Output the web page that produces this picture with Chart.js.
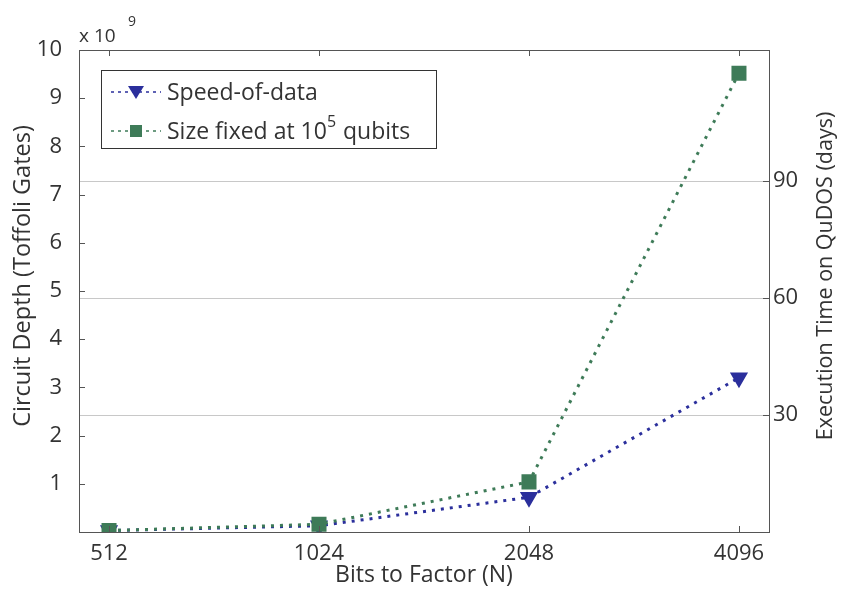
<!DOCTYPE html>
<html>
<head>
<meta charset="utf-8">
<script src="https://cdn.jsdelivr.net/npm/chart.js@4"></script>
<style>
  html, body { margin: 0; padding: 0; background: #fff; }
  #wrap { width: 841px; height: 590px; }
</style>
</head>
<body>
<div id="wrap"><canvas id="depthChart" width="841" height="590"></canvas></div>
<script>
// data
const bits = ['512', '1024', '2048', '4096'];
const speedOfData = [0.03e9, 0.13e9, 0.72e9, 3.2e9];
const sizeFixed = [0.03e9, 0.16e9, 1.04e9, 9.52e9];
const depthTicks = [1, 2, 3, 4, 5, 6, 7, 8, 9, 10];
const dayTicks = [30, 60, 90];

const FONT = "'Open Sans', sans-serif";
const TXT = '#333';
const BLUE = '#2b2f9c';
const GREEN = '#3e7b58';

// extra drawing: box, inward ticks, exponent, axis titles, legend
const matlabBits = {
    id: 'matlabBits',
    afterDraw(chart) {
        const ctx = chart.ctx;
        const a = chart.chartArea;
        const x = chart.scales.x, y = chart.scales.y, y1 = chart.scales.y1;
        ctx.save();
        ctx.strokeStyle = '#555';
        ctx.lineWidth = 1;
        ctx.strokeRect(a.left + 0.5, a.top + 0.5, a.right - a.left, a.bottom - a.top);

        // inward tick marks
        ctx.beginPath();
        depthTicks.forEach(v => {
            const py = Math.round(y.getPixelForValue(v * 1e9)) + 0.5;
            ctx.moveTo(a.left, py); ctx.lineTo(a.left + 6, py);
        });
        dayTicks.forEach(v => {
            const py = Math.round(y1.getPixelForValue(v)) + 0.5;
            ctx.moveTo(a.right, py); ctx.lineTo(a.right - 6, py);
        });
        bits.forEach((b, i) => {
            const px = Math.round(x.getPixelForValue(i)) + 0.5;
            ctx.moveTo(px, a.bottom); ctx.lineTo(px, a.bottom - 6);
            ctx.moveTo(px, a.top); ctx.lineTo(px, a.top + 6);
        });
        ctx.stroke();

        // exponent label
        ctx.fillStyle = TXT;
        ctx.textBaseline = 'alphabetic';
        ctx.textAlign = 'left';
        ctx.font = '19px ' + FONT;
        ctx.fillText('x 10', a.left, 42);
        ctx.font = '14px ' + FONT;
        ctx.fillText('9', a.left + 49, 26);

        // rotated axis titles
        ctx.textAlign = 'center';
        ctx.textBaseline = 'middle';
        [[23, 23.5, 'Circuit Depth (Toffoli Gates)'], [826, 21.5, 'Execution Time on QuDOS (days)']].forEach(([tx, fs, t]) => {
            ctx.save();
            ctx.font = fs + 'px ' + FONT;
            ctx.translate(tx, 276);
            ctx.rotate(-Math.PI / 2);
            ctx.fillText(t, 0, 0);
            ctx.restore();
        });

        // legend
        const lx = 101, ly = 70, lw = 335, lh = 78;
        ctx.fillStyle = '#fff';
        ctx.fillRect(lx, ly, lw, lh);
        ctx.strokeStyle = '#333';
        ctx.strokeRect(lx + 0.5, ly + 0.5, lw, lh);
        ctx.textAlign = 'left';
        const rows = [
            { y: ly + 22, color: BLUE, mark: 'tri', parts: [['Speed-of-data', 0]] },
            { y: ly + 61, color: GREEN, mark: 'sq', parts: [['Size fixed at 10', 0], ['5', 1], [' qubits', 0]] }
        ];
        rows.forEach(r => {
            ctx.strokeStyle = r.color;
            ctx.lineWidth = 1.5;
            ctx.setLineDash([3, 4]);
            ctx.beginPath();
            ctx.moveTo(lx + 10, r.y); ctx.lineTo(lx + 60, r.y);
            ctx.stroke();
            ctx.setLineDash([]);
            ctx.fillStyle = r.color;
            const mx = lx + 35;
            ctx.beginPath();
            if (r.mark === 'tri') {
                ctx.moveTo(mx - 8, r.y - 6); ctx.lineTo(mx + 8, r.y - 6); ctx.lineTo(mx, r.y + 7);
                ctx.closePath(); ctx.fill();
            } else {
                ctx.fillRect(mx - 6, r.y - 6, 12, 12);
            }
            let tx = lx + 66;
            ctx.fillStyle = TXT;
            ctx.textBaseline = 'middle';
            r.parts.forEach(([t, sup]) => {
                ctx.font = (sup ? '16px ' : '23px ') + FONT;
                ctx.fillText(t, tx, sup ? r.y - 9 : r.y + 1);
                tx += ctx.measureText(t).width + (sup ? 1 : 0);
            });
        });
        ctx.restore();
    }
};

new Chart(document.getElementById('depthChart').getContext('2d'), {
    type: 'line',
    data: {
        datasets: [
            {
                label: 'Speed-of-data',
                data: speedOfData.map((v, i) => ({ x: i, y: v })),
                borderColor: BLUE,
                backgroundColor: BLUE,
                borderWidth: 3,
                borderDash: [3, 6],
                pointStyle: 'triangle',
                rotation: 180,
                pointRadius: 7.5,
                yAxisID: 'y',
                order: 2
            },
            {
                label: 'Size fixed at 10^5 qubits',
                data: sizeFixed.map((v, i) => ({ x: i, y: v })),
                borderColor: GREEN,
                backgroundColor: GREEN,
                borderWidth: 3,
                borderDash: [3, 6],
                pointStyle: 'rect',
                pointRadius: 8.5,
                yAxisID: 'y',
                order: 1
            }
        ]
    },
    options: {
        responsive: false,
        animation: false,
        layout: { padding: { top: 50, left: 0, right: 0, bottom: 0 } },
        plugins: {
            legend: { display: false },
            tooltip: { enabled: false }
        },
        scales: {
            x: {
                type: 'linear',
                min: -0.143,
                max: 3.143,
                afterBuildTicks: s => { s.ticks = bits.map((b, i) => ({ value: i })); },
                afterFit: s => { s.height = 58; },
                grid: { display: false },
                border: { color: '#555' },
                ticks: {
                    callback: (v) => bits[v],
                    color: TXT,
                    padding: 1,
                    maxRotation: 0,
                    font: { family: FONT, size: 22 }
                },
                title: {
                    display: true,
                    text: 'Bits to Factor (N)',
                    color: TXT,
                    padding: { top: 0, bottom: 1 },
                    font: { family: FONT, size: 23 }
                }
            },
            y: {
                position: 'left',
                min: 0,
                max: 10e9,
                afterBuildTicks: s => { s.ticks = depthTicks.map(v => ({ value: v * 1e9 })); },
                afterFit: s => { s.width = 79; },
                grid: { display: false },
                border: { color: '#555' },
                ticks: {
                    callback: v => v / 1e9,
                    color: TXT,
                    padding: 9,
                    font: { family: FONT, size: 22 }
                }
            },
            y1: {
                position: 'right',
                min: 0,
                max: 123.6,
                afterBuildTicks: s => { s.ticks = dayTicks.map(v => ({ value: v })); },
                afterFit: s => { s.width = 72; },
                grid: { color: '#c8c8c8', lineWidth: 1, drawTicks: false },
                border: { display: false },
                ticks: {
                    color: TXT,
                    padding: 4,
                    font: { family: FONT, size: 22 }
                }
            }
        }
    },
    plugins: [matlabBits]
});
</script>
</body>
</html>
